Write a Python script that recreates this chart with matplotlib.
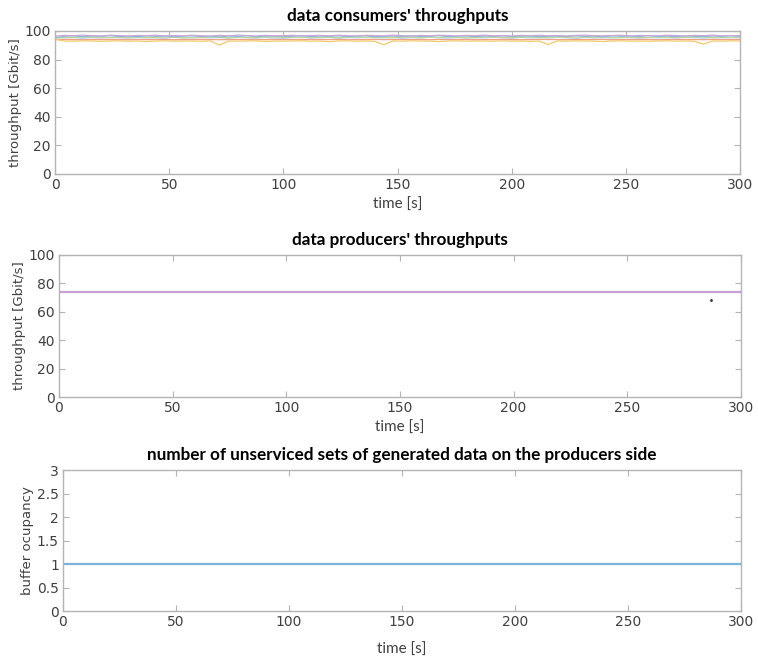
import numpy as np
import matplotlib
matplotlib.use("Agg")
import matplotlib.pyplot as plt

plt.rcParams['font.family'] = ['DejaVu Sans']

# consumer throughputs, sampled every 4 s from 0 to 300 s
cons_t = np.arange(0, 301, 4)

cons_yellow = [94.2, 93.0, 92.9, 93.1, 93.0, 92.8, 93.0, 93.1, 92.9, 93.0,
               92.6, 93.0, 93.1, 92.9, 93.0, 93.0, 92.8, 93.1, 90.1, 93.0,
               92.9, 93.0, 93.1, 92.7, 93.0, 92.9, 93.0, 93.1, 92.9, 93.0,
               92.5, 93.0, 93.1, 92.9, 93.0, 92.8, 90.3, 93.0, 92.9, 93.1,
               93.0, 92.9, 92.6, 93.0, 93.1, 92.9, 93.0, 93.0, 92.8, 93.1,
               92.9, 93.0, 92.7, 93.0, 90.6, 93.0, 92.9, 93.1, 93.0, 92.9,
               92.6, 93.0, 93.1, 92.9, 93.0, 92.8, 93.0, 93.1, 92.9, 93.0,
               92.8, 90.8, 93.0, 92.9, 93.1, 93.0]
cons_red = [94.0, 94.1, 94.0, 93.9, 94.0, 94.1, 94.0, 94.0, 93.9, 94.1,
            94.0, 94.0, 94.1, 93.9, 94.0, 94.0, 94.1, 94.0, 93.9, 94.0,
            94.1, 94.0, 93.9, 94.0, 94.1, 94.0, 94.0, 93.9, 94.1, 94.0,
            94.0, 94.1, 93.9, 94.0, 94.0, 94.1, 93.9, 94.0, 94.1, 94.0,
            94.0, 93.9, 94.1, 94.0, 94.0, 94.1, 93.9, 94.0, 94.0, 94.1,
            94.0, 93.9, 94.0, 94.1, 94.0, 94.0, 93.9, 94.1, 94.0, 94.0,
            94.1, 93.9, 94.0, 94.0, 94.1, 94.0, 93.9, 94.0, 94.1, 94.0,
            94.0, 93.9, 94.1, 94.0, 94.0, 94.1]
cons_blue = [95.2, 96.3, 96.6, 96.0, 96.5, 96.2, 96.8, 96.1, 96.4, 96.0,
             96.6, 96.2, 96.5, 95.9, 96.4, 96.7, 96.1, 96.3, 95.8, 96.5,
             96.2, 96.7, 96.0, 96.4, 96.6, 96.1, 96.3, 96.8, 96.0, 96.5,
             96.2, 96.6, 96.1, 96.4, 96.7, 95.9, 96.3, 96.5, 96.0, 96.6,
             96.2, 96.4, 96.8, 96.1, 96.3, 96.6, 96.0, 96.5, 96.2, 96.7,
             96.1, 96.4, 96.6, 96.0, 96.3, 96.5, 96.1, 96.7, 96.2, 96.4,
             96.0, 96.6, 96.3, 96.5, 96.1, 96.8, 96.2, 96.4, 96.0, 96.6,
             96.3, 96.1, 96.5, 96.2, 96.7, 96.3]
cons_green = [95.0, 95.6, 95.3, 95.9, 95.5, 95.8, 95.2, 95.7, 95.4, 96.0,
              95.5, 95.3, 95.8, 95.6, 95.1, 95.7, 95.4, 95.9, 95.6, 95.3,
              95.8, 95.5, 95.2, 95.7, 95.9, 95.4, 95.6, 95.3, 95.8, 95.5,
              95.7, 95.2, 95.6, 95.9, 95.4, 95.7, 95.5, 95.3, 95.8, 95.6,
              95.2, 95.7, 95.5, 95.9, 95.4, 95.6, 95.3, 95.8, 95.5, 95.7,
              95.2, 95.6, 95.9, 95.4, 95.5, 95.7, 95.3, 95.8, 95.6, 95.4,
              95.9, 95.5, 95.2, 95.7, 95.6, 95.3, 95.8, 95.5, 95.7, 95.4,
              95.6, 95.9, 95.3, 95.6, 95.5, 95.8]
cons_purple = [96.4, 96.9, 96.6, 97.1, 96.7, 96.5, 97.0, 96.8, 96.4, 96.9,
               96.7, 97.1, 96.5, 96.8, 96.6, 97.0, 96.7, 96.4, 96.9, 96.6,
               97.1, 96.8, 96.5, 96.9, 96.7, 96.6, 97.0, 96.5, 96.8, 96.9,
               96.6, 97.0, 96.7, 96.5, 96.9, 96.8, 96.6, 97.1, 96.7, 96.5,
               96.9, 96.6, 97.0, 96.8, 96.5, 96.9, 96.7, 97.1, 96.6, 96.8,
               96.5, 96.9, 96.7, 97.0, 96.6, 96.8, 96.5, 96.9, 97.1, 96.7,
               96.6, 96.8, 97.0, 96.5, 96.9, 96.7, 96.6, 97.0, 96.8, 96.5,
               96.9, 96.7, 97.1, 96.6, 96.8, 96.7]
cons_cyan = [95.6, 95.2, 95.5, 94.9, 95.4, 95.1, 95.6, 95.3, 95.0, 95.5,
             95.2, 95.4, 94.9, 95.6, 95.3, 95.1, 95.5, 95.2, 95.4, 95.0,
             95.6, 95.3, 95.1, 95.5, 95.2, 94.9, 95.4, 95.6, 95.1, 95.3,
             95.5, 95.0, 95.4, 95.2, 95.6, 95.3, 95.1, 95.5, 94.9, 95.4,
             95.2, 95.6, 95.3, 95.0, 95.5, 95.1, 95.4, 95.2, 95.6, 95.3,
             95.0, 95.5, 95.2, 95.4, 95.1, 95.6, 95.3, 94.9, 95.5, 95.2,
             95.4, 95.1, 95.6, 95.3, 95.0, 95.5, 95.2, 95.4, 95.1, 95.6,
             95.3, 95.0, 95.5, 95.2, 95.4, 95.3]

# producer throughput (flat) and one stray sample
prod_t = [0, 300]
prod_vals = [74.0, 74.0]
prod_outlier_t = [287]
prod_outlier_val = [68.5]

# buffer occupancy
buf_t = [0, 300]
buf_vals = [1.0, 1.0]

GRAY = "#b4b4b4"
TXT = "#404040"


def style_axes(ax, ymax, yticks, ylabels=None):
    ax.set_xlim(0, 300)
    ax.set_ylim(0, ymax)
    ax.set_xticks([0, 50, 100, 150, 200, 250, 300])
    ax.set_yticks(yticks)
    if ylabels is not None:
        ax.set_yticklabels(ylabels)
    for s in ax.spines.values():
        s.set_color(GRAY)
        s.set_linewidth(1.0)
    ax.tick_params(direction="in", length=4, color=GRAY, labelcolor=TXT,
                   labelsize=10, top=True, right=True, pad=3)


fig = plt.figure(figsize=(7.58, 6.63), dpi=100)

title_kw = dict(fontfamily="Lato", fontweight="bold", fontsize=12.3, pad=7)
xlab_kw = dict(fontfamily="Lato", fontsize=11, color=TXT)

# top: consumers
ax1 = fig.add_axes([0.0726, 0.7376, 0.9037, 0.2157])
series = [(cons_cyan, "#9fd8f0"), (cons_green, "#b8d89a"),
          (cons_blue, "#8fb6dc"), (cons_purple, "#c9a8d6"),
          (cons_red, "#f0a08a"), (cons_yellow, "#f3c86a")]
for vals, col in series:
    ax1.plot(cons_t, vals, color=col, lw=0.9)
style_axes(ax1, 100, [0, 20, 40, 60, 80, 100])
ax1.set_title("data consumers' throughputs", **title_kw)
ax1.set_xlabel("time [s]", labelpad=4, **xlab_kw)
ax1.set_ylabel("throughput [Gbit/s]", fontsize=9.5, color=TXT, labelpad=2)

# middle: producers
ax2 = fig.add_axes([0.0778, 0.4012, 0.8997, 0.2142])
ax2.plot(prod_t, prod_vals, color="#c79fd6", lw=1.6)
ax2.plot(prod_outlier_t, prod_outlier_val, ".", color="#333333", ms=2)
style_axes(ax2, 100, [0, 20, 40, 60, 80, 100])
ax2.set_title("data producers' throughputs", **title_kw)
ax2.set_xlabel("time [s]", labelpad=4, **xlab_kw)
ax2.set_ylabel("throughput [Gbit/s]", fontsize=9.5, color=TXT, labelpad=2)

# bottom: buffer
ax3 = fig.add_axes([0.0831, 0.0784, 0.8945, 0.2127])
ax3.plot(buf_t, buf_vals, color="#7ab4dc", lw=1.6)
style_axes(ax3, 3, [0, 0.5, 1, 1.5, 2, 2.5, 3],
           ["0", "0.5", "1", "1.5", "2", "2.5", "3"])
ax3.set_title("number of unserviced sets of generated data on the producers side",
              **title_kw)
ax3.set_xlabel("time [s]", labelpad=10, **xlab_kw)
ax3.set_ylabel("buffer ocupancy", fontsize=9.5, color=TXT, labelpad=2)

fig.savefig("out.png", dpi=100)
